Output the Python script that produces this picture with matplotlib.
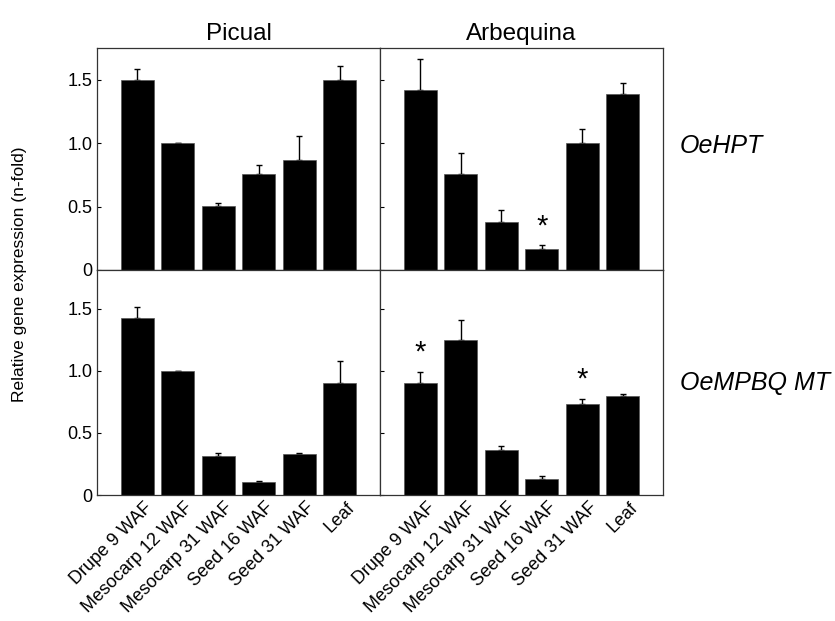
import numpy as np
import matplotlib.pyplot as plt

plt.rcParams['font.family'] = ['Liberation Sans', 'DejaVu Sans']

# Datos
tejidos = ['Drupe 9 WAF', 'Mesocarp 12 WAF', 'Mesocarp 31 WAF',
           'Seed 16 WAF', 'Seed 31 WAF', 'Leaf']
variedades = ['Picual', 'Arbequina']
genes = ['OeHPT', 'OeMPBQ MT']

hpt_picual = [1.50, 1.00, 0.505, 0.755, 0.87, 1.50]
hpt_picual_err = [0.085, 0.0, 0.02, 0.075, 0.19, 0.11]
hpt_arbequina = [1.415, 0.755, 0.38, 0.165, 1.00, 1.39]
hpt_arbequina_err = [0.25, 0.165, 0.09, 0.03, 0.115, 0.085]

mpbq_picual = [1.425, 1.00, 0.315, 0.105, 0.33, 0.90]
mpbq_picual_err = [0.085, 0.0, 0.025, 0.01, 0.005, 0.18]
mpbq_arbequina = [0.90, 1.245, 0.36, 0.13, 0.73, 0.80]
mpbq_arbequina_err = [0.09, 0.16, 0.035, 0.025, 0.045, 0.01]

# posiciones de los asteriscos (indice de barra)
estrellas_hpt_arbequina = [3]
estrellas_mpbq_arbequina = [0, 4]

datos = [
    [(hpt_picual, hpt_picual_err, []),
     (hpt_arbequina, hpt_arbequina_err, estrellas_hpt_arbequina)],
    [(mpbq_picual, mpbq_picual_err, []),
     (mpbq_arbequina, mpbq_arbequina_err, estrellas_mpbq_arbequina)],
]

fig = plt.figure(figsize=(8.35, 6.21), dpi=100)
W, H = 835, 621
cajas = {
    (0, 0): (97, 48, 283, 222), (0, 1): (380, 48, 283, 222),
    (1, 0): (97, 270, 283, 225), (1, 1): (380, 270, 283, 225),
}
ylims = [1.75, 1.81]

x = np.arange(len(tejidos))
for fila in range(2):
    for col in range(2):
        px, py, pw, ph = cajas[(fila, col)]
        ax = fig.add_axes([px / W, 1 - (py + ph) / H, pw / W, ph / H])
        vals, err, estrellas = datos[fila][col]
        ax.bar(x, vals, width=0.82, color='black', edgecolor='#555555', linewidth=0.5, zorder=2)
        ax.errorbar(x, vals, yerr=[np.zeros(len(vals)), err], fmt='none',
                    ecolor='black', elinewidth=1, capsize=2, capthick=1, zorder=1)
        for i in estrellas:
            ax.text(x[i], vals[i] + err[i] + 0.04, '*', ha='center', va='bottom',
                    fontsize=21)
        ax.set_xlim(-1.0, 6.0)
        ax.set_ylim(0, ylims[fila])
        ax.set_yticks([0, 0.5, 1.0, 1.5])
        ax.tick_params(axis='y', direction='in', length=3, width=0.8)
        ax.tick_params(axis='x', length=0, pad=3)
        for s in ax.spines.values():
            s.set_linewidth(0.9)
            s.set_color('#333333')
        if col == 0:
            ax.set_yticklabels(['0', '0.5', '1.0', '1.5'], fontsize=13)
        else:
            ax.set_yticklabels([])
        if fila == 1:
            ax.set_xticks(x + 0.15)
            ax.set_xticklabels(tejidos, rotation=45, ha='right', va='top',
                               rotation_mode='anchor', fontsize=13)
        else:
            ax.set_xticks([])
            ax.set_title(variedades[col], fontsize=17.5, pad=6)

fig.text(680 / W, 1 - 146 / H, genes[0], fontsize=18, style='italic', va='center', ha='left')
fig.text(680 / W, 1 - 383 / H, genes[1], fontsize=18, style='italic', va='center', ha='left')
fig.text(20 / W, 1 - 274 / H, 'Relative gene expression (n-fold)', rotation=90,
         fontsize=12.5, va='center', ha='center')

fig.savefig('out.png', dpi=100)
